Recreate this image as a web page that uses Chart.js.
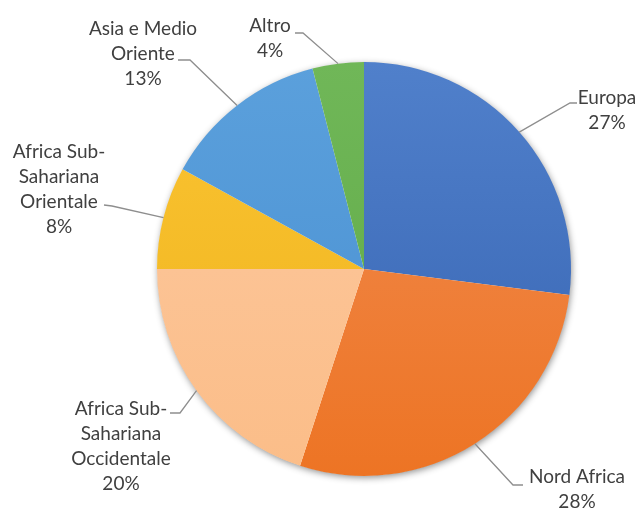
<!DOCTYPE html>
<html>
<head>
<meta charset="utf-8">
<title>Provenienza</title>
<script src="https://cdn.jsdelivr.net/npm/chart.js@4.4.1/dist/chart.umd.min.js"></script>
<style>
  html, body { margin: 0; padding: 0; background: #ffffff; }
  canvas { display: block; }
</style>
</head>
<body>
<canvas id="pieChart" width="643" height="514"></canvas>
<script>
// Slices, clockwise from 12 o'clock
var categories = ['Europa', 'Nord Africa', 'Africa Sub-Sahariana Occidentale',
                  'Africa Sub-Sahariana Orientale', 'Asia e Medio Oriente', 'Altro'];
var shares = [27, 28, 20, 8, 13, 4];

// How each category name is broken over lines in its label
var labelLines = [
    ['Europa'],
    ['Nord Africa'],
    ['Africa Sub-', 'Sahariana', 'Occidentale'],
    ['Africa Sub-', 'Sahariana', 'Orientale'],
    ['Asia e Medio', 'Oriente'],
    ['Altro']
];

// Fill colours, lighter at the top of the pie and darker at the bottom
var topColors    = ['#5080cb', '#f18c52', '#fdc9a0', '#fbc433', '#5ba0dc', '#70b758'];
var bottomColors = ['#3663b1', '#ed7424', '#fbbd88', '#eeb31c', '#488fd1', '#5fa946'];

// Label placement, in px from the pie centre (for a 207px radius):
// text = centre x / first baseline, elbow + end = leader line bends
var labelLayout = [
    { text: [243, -165], elbow: [206, -166], end: [213, -166] },
    { text: [213, 214],  elbow: [149, 216],  end: [159, 216] },
    { text: [-243, 146], elbow: [-184, 144], end: [-194, 144] },
    { text: [-305, -111], elbow: [-252, -63], end: [-260, -64] },
    { text: [-221, -234], elbow: [-174, -209], end: [-186, -209] },
    { text: [-94, -237], elbow: [-61, -236], end: [-69, -236] }
];

var labelFont = '19px Lato, "DejaVu Sans", sans-serif';
var lineHeight = 25;

// Soft grey shadow under the whole pie
var pieShadow = {
    id: 'pieShadow',
    beforeDatasetsDraw: function (chart) {
        var arc = chart.getDatasetMeta(0).data[0];
        if (!arc) return;
        var ctx = chart.ctx;
        ctx.save();
        ctx.shadowColor = 'rgba(0, 0, 0, 0.45)';
        ctx.shadowBlur = 7;
        ctx.shadowOffsetX = 1;
        ctx.shadowOffsetY = 2;
        ctx.fillStyle = '#ffffff';
        ctx.beginPath();
        ctx.arc(arc.x, arc.y, arc.outerRadius - 0.5, 0, Math.PI * 2);
        ctx.fill();
        ctx.restore();
    }
};

// Category + percentage labels with leader lines
var outsideLabels = {
    id: 'outsideLabels',
    afterDatasetsDraw: function (chart) {
        var ctx = chart.ctx;
        var meta = chart.getDatasetMeta(0);
        ctx.save();
        meta.data.forEach(function (arc, i) {
            var k = arc.outerRadius / 207;
            var cx = arc.x, cy = arc.y;
            var lay = labelLayout[i];
            var mid = (arc.startAngle + arc.endAngle) / 2;
            var sx = cx + Math.cos(mid) * arc.outerRadius;
            var sy = cy + Math.sin(mid) * arc.outerRadius;

            ctx.strokeStyle = '#8e8e8e';
            ctx.lineWidth = 1.3;
            ctx.beginPath();
            ctx.moveTo(sx, sy);
            ctx.lineTo(cx + lay.elbow[0] * k, cy + lay.elbow[1] * k);
            ctx.lineTo(cx + lay.end[0] * k, cy + lay.end[1] * k);
            ctx.stroke();

            var lines = labelLines[i].concat([shares[i] + '%']);
            ctx.font = labelFont;
            ctx.fillStyle = '#404040';
            ctx.textAlign = 'center';
            ctx.textBaseline = 'alphabetic';
            lines.forEach(function (txt, j) {
                ctx.fillText(txt, cx + lay.text[0] * k, cy + lay.text[1] * k + j * lineHeight);
            });
        });
        ctx.restore();
    }
};

function sliceFill(context) {
    var i = context.dataIndex;
    var area = context.chart.chartArea;
    if (!area) return topColors[i];
    var g = context.chart.ctx.createLinearGradient(0, area.top, 0, area.bottom);
    g.addColorStop(0, topColors[i]);
    g.addColorStop(1, bottomColors[i]);
    return g;
}

var ctx = document.getElementById('pieChart').getContext('2d');
var chart = new Chart(ctx, {
    type: 'pie',
    data: {
        labels: categories,
        datasets: [{
            data: shares,
            backgroundColor: sliceFill,
            borderWidth: 0
        }]
    },
    options: {
        responsive: false,
        animation: false,
        layout: { padding: { left: 157, right: 72, top: 62, bottom: 38 } },
        plugins: {
            legend: { display: false },
            tooltip: { enabled: false }
        }
    },
    plugins: [pieShadow, outsideLabels]
});
</script>
</body>
</html>
